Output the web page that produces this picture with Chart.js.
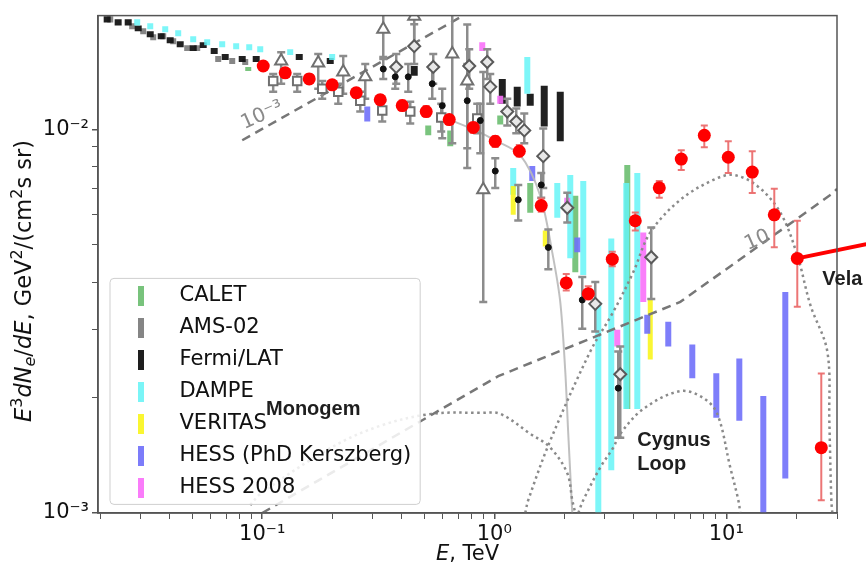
<!DOCTYPE html>
<html><head><meta charset="utf-8">
<script src="https://cdn.jsdelivr.net/npm/chart.js@4.4.1/dist/chart.umd.min.js"></script>
<style>html,body{margin:0;padding:0;background:#fff}</style>
</head><body>
<canvas id="c" width="866" height="574"></canvas>
<script>
// ---------- axis ticks ----------
const xTickValues = [0.02,0.03,0.04,0.05,0.06,0.07,0.08,0.09,0.1,0.2,0.3,0.4,0.5,0.6,0.7,0.8,0.9,1,2,3,4,5,6,7,8,9,10,20,30];
const xMajor = [0.1, 1, 10];
const xMajorLabels = ['10\u207B\u00B9', '10\u2070', '10\u00B9'];
const yTickValues = [0.001,0.002,0.003,0.004,0.005,0.006,0.007,0.008,0.009,0.01];
const yMajor = [0.001, 0.01];
const yMajorLabels = ['10\u207B\u00B3', '10\u207B\u00B2'];
// axis titles: [text, italic, shift] pieces (shift: 1 = superscript, -1 = subscript)
const yTitleParts = [['E',1,0],['3',0,1],['dN',1,0],['e',1,-1],['/',0,0],['dE',1,0],[', GeV',0,0],['2',0,1],['/(cm',0,0],['2',0,1],['s sr)',0,0]];
const xTitleParts = [['E',1,0],[', TeV',0,0]];

// ---------- experiment bands (E in TeV, flux upper/lower) ----------
const legendNames = ['CALET','AMS-02','Fermi/LAT','DAMPE','VERITAS','HESS (PhD Kerszberg)','HESS 2008'];
const legendColors = ['rgba(108,190,112,0.9)','rgba(128,128,128,0.95)','rgba(20,20,20,0.95)','rgba(102,245,247,0.85)','rgba(250,245,30,0.9)','rgba(112,112,250,0.9)','rgba(250,112,250,0.9)'];

const caletE  = [0.08704,0.5194,0.6461,1.061,1.429,2.235,3.744];
const caletHi = [0.01455,0.01024,0.00994,0.01087,0.007252,0.006712,0.008071];
const caletLo = [0.01420,0.009649,0.009039,0.01030,0.006066,0.004245,0.001867];

const amsE  = [0.02213,0.02752,0.03070,0.03390,0.03744,0.04134,0.04749,0.05246,0.06461,0.07424,0.08448];
const amsHi = [0.01971,0.01890,0.01835,0.01770,0.01781,0.01729,0.01658,0.01658,0.01553,0.01535,0.01526];
const amsLo = [0.01901,0.01824,0.01770,0.01708,0.01718,0.01668,0.01600,0.01600,0.01499,0.01481,0.01472];

const fermiE  = [0.02147,0.02394,0.02645,0.02921,0.03291,0.03670,0.04012,0.04431,0.05042,0.05568,0.06209,0.06926,0.08200,0.09421,0.1444,0.1964,0.4519,1.083,1.256,1.429,1.642,1.925];
const fermiHi = [0.01971,0.01936,0.01936,0.01867,0.01803,0.01781,0.01739,0.01698,0.01658,0.01688,0.01629,0.01572,0.01553,0.01553,0.01572,0.01535,0.01463,0.01354,0.01291,0.01239,0.01299,0.01254];
const fermiLo = [0.01901,0.01867,0.01867,0.01803,0.01739,0.01718,0.01678,0.01638,0.01600,0.01629,0.01572,0.01517,0.01499,0.01499,0.01517,0.01481,0.01379,0.01167,0.01147,0.01153,0.01018,0.009311];

const dampeE  = [0.02892,0.03291,0.03819,0.04344,0.05042,0.05793,0.06723,0.07722,0.08790,0.09804,0.1320,0.2002,1.388,1.207,1.869,2.126,2.419,2.808,3.194,3.707,4.135];
const dampeHi = [0.01936,0.01890,0.01856,0.01813,0.01750,0.01718,0.01698,0.01678,0.01668,0.01648,0.01619,0.01572,0.01544,0.007928,0.007252,0.007605,0.007338,0.003551,0.005197,0.007252,0.007696];
const dampeLo = [0.01867,0.01824,0.01792,0.01750,0.01688,0.01658,0.01638,0.01619,0.01609,0.01590,0.01562,0.01517,0.01239,0.006752,0.005888,0.004614,0.004170,0.00098,0.001292,0.001867,0.001867];

const veritasE  = [1.207,1.659,4.703];
const veritasHi = [0.007123,0.005450,0.003593];
const veritasLo = [0.005994,0.004955,0.002514];

const hessPhdE  = [0.2836,1.458,2.279,4.565,5.623,7.136,9.056,11.38,14.44,17.96];
const hessPhdHi = [0.01147,0.008023,0.005228,0.003287,0.003152,0.002749,0.002313,0.002529,0.002018,0.003770];
const hessPhdLo = [0.01049,0.007338,0.004781,0.002935,0.002716,0.002245,0.001771,0.001740,0.00098,0.001231];

const hess2008E  = [0.8877,1.061,2.064,3.390,4.387];
const hess2008Hi = [0.01688,0.01224,0.006632,0.003006,0.005385];
const hess2008Lo = [0.01600,0.01167,0.006066,0.002716,0.003551];

// ---------- red measurement points ----------
const redE  = [0.101,0.1256,0.1594,0.2002,0.2542,0.3226,0.4013,0.509,0.6397,0.812,1.01,1.282,1.594,2.043,2.542,3.226,4.053,5.143,6.397,8.04,10.2,12.94,16.1,20.23,25.67];
const redF  = [0.01463,0.01404,0.01354,0.01307,0.01246,0.01195,0.01154,0.01113,0.01061,0.01012,0.00931,0.00877,0.00633,0.00398,0.00373,0.00459,0.00578,0.00704,0.00837,0.00965,0.00846,0.00774,0.00599,0.00461,0.00148];
const redLo = [0.0143,0.0137,0.0132,0.0127,0.0121,0.0116,0.0112,0.0108,0.0103,0.0098,0.0090,0.0085,0.0061,0.0038,0.0036,0.0044,0.00545,0.00663,0.00784,0.00899,0.00770,0.00683,0.00493,0.00345,0.00108];
const redHi = [0.0150,0.0144,0.0139,0.0134,0.0128,0.0123,0.0119,0.0115,0.0109,0.0104,0.0096,0.0091,0.0066,0.0042,0.0039,0.0048,0.00607,0.00734,0.00882,0.01024,0.00931,0.00877,0.00700,0.00578,0.00231];
const velaLinkE = [20.23, 40.1];
const velaLinkF = [0.00461, 0.00502];

// ---------- grey compiled points ----------
const triE  = [0.1207,0.1743,0.2234,0.2780,0.3324,0.4519,0.6592,0.7648,0.8966];
const triF  = [0.01508,0.01490,0.01412,0.01371,0.01824,0.01971,0.01572,0.01338,0.006958];
const triLo = [0.01315,0.01276,0.01239,0.01202,0.01544,0.01668,0.00920,0.007928,0.003551];
const triHi = [0.01590,0.01572,0.01553,0.01481,0.0208,0.0208,0.0208,0.01878,0.01412];

const diaE  = [0.4519,0.3781,0.5458,0.7802,0.9329,0.9611,1.138,1.244,1.347,1.626,2.064,2.725,3.492,4.750];
const diaF  = [0.01648,0.01455,0.01455,0.01463,0.01499,0.01291,0.01113,0.01049,0.009940,0.008516,0.006249,0.003509,0.002300,0.004642];
const diaLo = [0.01481,0.01315,0.01315,0.01276,0.01354,0.01167,0.01024,0.009765,0.009200,0.007038,0.005715,0.002971,0.001572,0.003615];
const diaHi = [0.01879,0.01572,0.01572,0.01619,0.01619,0.01395,0.01202,0.01133,0.01100,0.01006,0.006832,0.004000,0.002716,0.005548];

const sqE  = [0.1115,0.1415,0.1814,0.2126,0.2645,0.3291,0.4345,0.5908,0.8447];
const sqF  = [0.01338,0.01338,0.01276,0.01254,0.01188,0.01120,0.01113,0.01074,0.01068];
const sqLo = [0.01254,0.01254,0.01202,0.01167,0.01113,0.01049,0.01036,0.009881,0.009765];
const sqHi = [0.01395,0.01395,0.01338,0.01315,0.01254,0.01188,0.01181,0.01167,0.01167];

const dotE  = [0.3324,0.3744,0.4259,0.5404,0.5968,0.7648,0.8704,1.010,1.269,1.594,1.710,2.395,3.423];
const dotF  = [0.01437,0.01371,0.01371,0.01315,0.01153,0.01188,0.01055,0.007788,0.006553,0.007166,0.004925,0.003593,0.002116];
const dotLo = [0.01354,0.01276,0.01254,0.01202,0.009478,0.008931,0.008670,0.007038,0.005784,0.006632,0.004321,0.003024,0.001572];
const dotHi = [0.01526,0.01463,0.01481,0.01437,0.01276,0.01481,0.01167,0.008415,0.007166,0.007696,0.005483,0.004121,0.002637];

// ---------- model curves ----------
const dashAE = [0.082, 0.735];
const dashAF = [0.00937, 0.0198];
const dashBE = [0.1, 1.04, 6.337, 28.92, 30];
const dashBF = [0.001, 0.002273, 0.003551, 0.006832, 0.00700];
const monogemE = [0.0888,0.0990,0.1983,0.3226,0.5350,0.8704,1.061,1.429,1.743,2.064,2.169,2.235];
const monogemF = [0.001049,0.001126,0.001481,0.001688,0.001813,0.001824,0.001813,0.001609,0.001481,0.001269,0.001080,0.001];
const velaE = [1.360,1.401,1.743,2.593,3.258,3.973,4.703,6.337,8.790,10.72,13.60,17.10,20.23,23.02,27.25,27.80,28.36,28.64];
const velaF = [0.001,0.001080,0.001544,0.002637,0.003345,0.004245,0.005385,0.006553,0.007382,0.007605,0.007123,0.006066,0.004697,0.003488,0.002637,0.001740,0.001080,0.001];
const cygnusE = [2.302,2.419,2.864,3.258,3.492,4.387,6.337,7.962,9.147,10.40,11.27,11.49];
const cygnusF = [0.001,0.001080,0.001315,0.001481,0.001609,0.001867,0.002079,0.001994,0.001813,0.001315,0.001080,0.001];
const cutoffE = [0.6397,0.812,1.010,1.294,1.579,1.778,1.925,2.023,2.084,2.169];
const cutoffF = [0.01061,0.0100,0.009367,0.008567,0.006712,0.004781,0.003551,0.002342,0.001609,0.001];

// ---------- text annotations ----------
const annoText = ['Monogem','Cygnus','Loop','Vela'];
const annoE = [0.1659, 4.135, 4.135, 25.94];
const annoF = [0.001867, 0.001544, 0.001338, 0.004072];
const annoAlign = ['center','left','left','left'];
const slopeText = ['10\u207B\u00B3', '10'];
const slopeE = [0.1, 13.6];
const slopeF = [0.01087, 0.005136];

// ---------- helpers (build datasets from the arrays) ----------
function segs(xs, lo, hi) { const o = []; xs.forEach((x, i) => { o.push({x, y: lo[i]}, {x, y: hi[i]}, {x, y: null}); }); return o; }
function pts(xs, ys) { return xs.map((x, i) => ({x, y: ys[i]})); }
const FAM = "'DejaVu Sans', sans-serif";

const swatches = legendColors.map(c => { const cv = document.createElement('canvas'); cv.width = 6; cv.height = 20; const g = cv.getContext('2d'); g.fillStyle = c; g.fillRect(0, 0, 6, 20); return cv; });

function band(i, xs, lo, hi, w) {
  return { label: legendNames[i], data: segs(xs, lo, hi), borderColor: legendColors[i], backgroundColor: legendColors[i],
    borderWidth: w, borderCapStyle: 'butt', pointRadius: 0, spanGaps: false, order: 20 - i, isBand: true };
}
function errBars(xs, lo, hi, color, w, cap, order) {
  return { label: '_err', data: segs(xs, lo, hi), borderColor: color, borderWidth: w, borderCapStyle: 'butt', spanGaps: false,
    pointStyle: 'line', pointRadius: c => (c.raw && c.raw.y != null) ? cap : 0, pointBorderColor: color, pointBorderWidth: w, pointHoverRadius: 0, order };
}
function markers(xs, ys, style, r, fill, stroke, bw, order) {
  return { label: '_mk', data: pts(xs, ys), showLine: false, pointStyle: style, pointRadius: r, pointBackgroundColor: fill,
    pointBorderColor: stroke, pointBorderWidth: bw, order };
}
function curve(xs, ys, color, w, dash, tension, order) {
  return { label: '_crv', data: pts(xs, ys), borderColor: color, borderWidth: w, borderDash: dash, pointRadius: 0, tension, order, fill: false };
}

const datasets = [
  band(0, caletE, caletLo, caletHi, 6),
  band(1, amsE, amsLo, amsHi, 6),
  band(2, fermiE, fermiLo, fermiHi, 7),
  band(3, dampeE, dampeLo, dampeHi, 6),
  band(4, veritasE, veritasLo, veritasHi, 5),
  band(5, hessPhdE, hessPhdLo, hessPhdHi, 6),
  band(6, hess2008E, hess2008Lo, hess2008Hi, 6),
  curve(cutoffE, cutoffF, 'rgba(185,185,185,0.9)', 2, [], 0.3, 9),
  curve(monogemE, monogemF, '#8a8a8a', 2.5, [2.5, 3.5], 0.35, 8),
  curve(velaE, velaF, '#8a8a8a', 2.5, [2.5, 3.5], 0.35, 8),
  curve(cygnusE, cygnusF, '#8a8a8a', 2.5, [2.5, 3.5], 0.35, 8),
  curve(dashAE, dashAF, '#777', 2.5, [9, 6], 0, 7),
  curve(dashBE, dashBF, '#777', 2.5, [9, 6], 0, 7),
  errBars(triE, triLo, triHi, '#8c8c8c', 2.5, 4, 6),
  errBars(diaE, diaLo, diaHi, '#8c8c8c', 2.5, 4, 6),
  errBars(sqE, sqLo, sqHi, '#8c8c8c', 2.5, 4, 6),
  errBars(dotE, dotLo, dotHi, '#8c8c8c', 2.5, 4, 6),
  markers(triE, triF, 'triangle', 7, '#fff', '#707070', 2, 5),
  markers(sqE, sqF, 'rect', 6, '#fff', '#707070', 2, 5),
  markers(diaE, diaF, 'rectRot', 6, '#e8e8e8', '#5a5a5a', 2, 5),
  markers(dotE, dotF, 'circle', 3, '#111', '#111', 1, 4),
  errBars(redE, redLo, redHi, 'rgba(235,110,110,0.95)', 2, 3.5, 3),
  Object.assign(curve(velaLinkE, velaLinkF, '#ff0000', 4, [], 0, 2), { clip: false }),
  markers(redE, redF, 'circle', 6.5, '#ff0000', '#ff0000', 0, 1)
];

// draws a title made of pieces with italic / super- / subscript parts
function drawParts(ctx, parts, cx, cy, rot, main, small) {
  const fontOf = p => (p[1] ? 'italic ' : '') + (p[2] ? small : main) + 'px ' + FAM;
  let total = 0;
  const widths = parts.map(p => { ctx.font = fontOf(p); const w = ctx.measureText(p[0]).width; total += w; return w; });
  ctx.save();
  ctx.translate(cx, cy);
  ctx.rotate(rot);
  ctx.textBaseline = 'alphabetic';
  ctx.textAlign = 'left';
  ctx.fillStyle = '#111';
  let x = -total / 2;
  parts.forEach((p, i) => {
    ctx.font = fontOf(p);
    const dy = p[2] === 1 ? -9 : (p[2] === -1 ? 4 : 0);
    ctx.fillText(p[0], x, 7 + dy);
    x += widths[i];
  });
  ctx.restore();
}

const overlay = {
  id: 'overlay',
  afterLayout(chart) {
    const lg = chart.legend; if (!lg) return;
    lg.left += 3; lg.right += 3; lg.top += 18; lg.bottom += 12;
  },
  afterDatasetsDraw(chart) {
    const lg = chart.legend, hb = lg.legendHitBoxes; if (!hb || !hb.length) return;
    const ctx = chart.ctx;
    const l = hb[0].left - 2, t = hb[0].top - 7;
    let r = 0; hb.forEach(h => { r = Math.max(r, h.left + h.width); });
    const last = hb[hb.length - 1];
    const b = last.top + last.height + 6;
    ctx.save();
    ctx.beginPath();
    ctx.roundRect(l, t, r + 9 - l, b - t, 4);
    ctx.fillStyle = 'rgba(255,255,255,0.85)';
    ctx.fill();
    ctx.lineWidth = 1;
    ctx.strokeStyle = '#cfcfcf';
    ctx.stroke();
    ctx.restore();
    lg.draw();
  },
  afterDraw(chart) {
    const {ctx, chartArea: a, scales: {x, y}} = chart;
    ctx.save();
    ctx.strokeStyle = '#555'; ctx.lineWidth = 1.5;
    ctx.strokeRect(a.left, a.top, a.right - a.left, a.bottom - a.top);
    // source labels
    ctx.fillStyle = '#1e1e1e';
    ctx.font = "bold 20px 'Liberation Sans', Arial, sans-serif";
    ctx.textBaseline = 'middle';
    annoText.forEach((t, i) => { ctx.textAlign = annoAlign[i]; ctx.fillText(t, x.getPixelForValue(annoE[i]), y.getPixelForValue(annoF[i])); });
    // slope labels of the dashed lines
    ctx.fillStyle = '#8a8a8a';
    ctx.font = "20px " + FAM;
    ctx.textAlign = 'center';
    slopeText.forEach((t, i) => {
      ctx.save();
      ctx.translate(x.getPixelForValue(slopeE[i]), y.getPixelForValue(slopeF[i]));
      ctx.rotate(-24 * Math.PI / 180);
      ctx.fillText(t, 0, 0);
      ctx.restore();
    });
    // axis titles
    drawParts(ctx, yTitleParts, 24, 281, -Math.PI / 2, 22.5, 16);
    drawParts(ctx, xTitleParts, (a.left + a.right) / 2, 553, 0, 21, 15);
    ctx.restore();
  }
};

function labelFor(list, labels) {
  return v => { const i = list.findIndex(m => Math.abs(m - v) / m < 1e-6); return i >= 0 ? labels[i] : ''; };
}
const xLabel = labelFor(xMajor, xMajorLabels);
const yLabel = labelFor(yMajor, yMajorLabels);
const isMaj = (list, v) => list.some(m => Math.abs(m - v) / m < 1e-6);

new Chart(document.getElementById('c'), {
  type: 'line',
  data: { datasets },
  options: {
    responsive: false,
    animation: false,
    events: [],
    layout: { padding: { top: 11, right: 29, left: 0, bottom: 0 } },
    plugins: {
      tooltip: { enabled: false },
      legend: {
        position: 'chartArea',
        align: 'end',
        labels: {
          usePointStyle: true,
          pointStyleWidth: 57,
          padding: 11,
          color: '#111',
          font: { size: 21, family: FAM },
          generateLabels: (chart) => chart.data.datasets
            .map((ds, i) => ({ ds, i }))
            .filter(o => o.ds.isBand)
            .map(o => {
              const k = legendNames.indexOf(o.ds.label);
              return { text: o.ds.label, fillStyle: legendColors[k], strokeStyle: legendColors[k], lineWidth: 0,
                pointStyle: swatches[k], datasetIndex: o.i, hidden: false, fontColor: '#111' };
            })
        }
      }
    },
    scales: {
      x: {
        type: 'logarithmic', min: 0.0196, max: 30,
        afterBuildTicks: s => { s.ticks = xTickValues.map(v => ({ value: v, major: isMaj(xMajor, v) })); },
        afterFit: s => { s.height = 61; },
        ticks: { autoSkip: false, maxRotation: 0, minRotation: 0, padding: 3, color: '#111', font: { size: 21, family: FAM }, callback: v => xLabel(v) },
        grid: { drawOnChartArea: false, drawTicks: true, tickLength: 6, color: '#555', lineWidth: c => (c.tick && isMaj(xMajor, c.tick.value)) ? 1.5 : 1 },
        border: { display: true, color: '#555', width: 1.5 },
        title: { display: false, text: 'E, TeV' }
      },
      y: {
        type: 'logarithmic', min: 0.001, max: 0.0198,
        afterBuildTicks: s => { s.ticks = yTickValues.map(v => ({ value: v, major: isMaj(yMajor, v) })); },
        afterFit: s => { s.width = 98; },
        ticks: { autoSkip: false, padding: 3, color: '#111', font: { size: 21, family: FAM }, callback: v => yLabel(v) },
        grid: { drawOnChartArea: false, drawTicks: true, tickLength: 6, color: '#555', lineWidth: c => (c.tick && isMaj(yMajor, c.tick.value)) ? 1.5 : 1 },
        border: { display: true, color: '#555', width: 1.5 },
        title: { display: false, text: 'E\u00B3dN\u2091/dE, GeV\u00B2/(cm\u00B2s sr)' }
      }
    }
  },
  plugins: [overlay]
});
</script>
</body></html>
